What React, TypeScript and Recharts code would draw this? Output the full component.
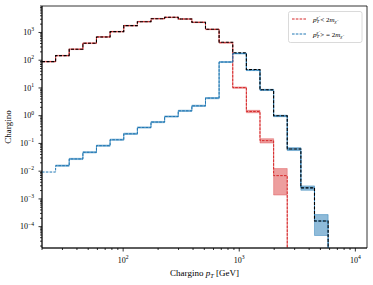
import React from "react";
import { ComposedChart, Line, Area, XAxis, YAxis, ReferenceArea } from "recharts";

// log-spaced bin edges (GeV), 23 bins from 20 to 10^4
const binEdges = [
  20.0, 26.2, 34.3, 45.0, 58.9, 77.2, 101.2, 132.6, 173.7, 227.6, 298.2, 390.7,
  511.9, 670.7, 878.9, 1151.5, 1508.9, 1977.0, 2590.4, 3394.2, 4447.3, 5827.3,
  7635.3, 10000,
];

// bin contents, null = empty bin
const totalCounts = [
  89, 146, 249, 410, 690, 1070, 1760, 2450, 3140, 3520, 3060, 2330, 1300, 445,
  185, 46, 8.6, 0.99, 0.063, 0.0025, 0.00016, null, null,
];
const lowPtCounts = [
  89, 146, 249, 410, 690, 1070, 1760, 2450, 3139, 3519, 3058, 2328, 1296, 430,
  10.3, 1.42, 0.126, 0.0069, null, null, null, null, null,
];
const highPtCounts = [
  0.0093, 0.0158, 0.0276, 0.048, 0.083, 0.136, 0.223, 0.376, 0.589, 0.935, 1.5,
  2.27, 4.3, 86, 175, 44, 8.5, 0.98, 0.063, 0.0025, 0.00016, null, null,
];

// relative uncertainty per bin (shaded band)
const lowPtRelErr = [
  0.03, 0.03, 0.03, 0.03, 0.03, 0.03, 0.03, 0.03, 0.03, 0.03, 0.03, 0.03, 0.03,
  0.04, 0.06, 0.1, 0.18, 0.8, null, null, null, null, null,
];
const highPtRelErr = [
  null, 0.05, 0.05, 0.05, 0.05, 0.05, 0.05, 0.05, 0.05, 0.05, 0.05, 0.05, 0.05,
  0.04, 0.04, 0.04, 0.05, 0.06, 0.12, 0.18, 0.7, null, null,
];

const X_DOMAIN = [20, 12600];
const Y_DOMAIN = [1.7e-5, 9000];
const FLOOR = 1e-7; // below the axis, so steps drop to the bottom
const FONT = "'Liberation Serif', 'DejaVu Serif', serif";
const RED = "#d62728";
const BLUE = "#1f77b4";

const xMajorTicks = [100, 1000, 10000];
const yMajorExps = [-4, -3, -2, -1, 0, 1, 2, 3];

function minorTicks(exps: number[], lo: number, hi: number) {
  const out: number[] = [];
  for (const e of exps) {
    for (let m = 1; m <= 9; m++) {
      const v = m * Math.pow(10, e);
      if (v >= lo && v <= hi) out.push(v);
    }
  }
  return out;
}

const xTicks = minorTicks([1, 2, 3, 4], X_DOMAIN[0], X_DOMAIN[1]);
const yTicks = minorTicks([-5, -4, -3, -2, -1, 0, 1, 2, 3], Y_DOMAIN[0], Y_DOMAIN[1]);

function stepVal(vals: (number | null)[], k: number) {
  const v = k < vals.length ? vals[k] : null;
  if (v != null) return v;
  const prev = k > 0 && k - 1 < vals.length ? vals[k - 1] : null;
  return prev != null ? FLOOR : null;
}

function bandVal(vals: (number | null)[], errs: (number | null)[], k: number) {
  const v = k < vals.length ? vals[k] : null;
  const e = k < errs.length ? errs[k] : null;
  if (v != null && e != null) return [v * (1 - e), v * (1 + e)];
  const pe = k > 0 && k - 1 < errs.length ? errs[k - 1] : null;
  if (v == null && pe != null) return [FLOOR, FLOOR];
  return null;
}

const data = binEdges.map((edge, k) => ({
  x: edge,
  total: stepVal(totalCounts, k),
  low: stepVal(lowPtCounts, k),
  high: stepVal(highPtCounts, k),
  lowBand: bandVal(lowPtCounts, lowPtRelErr, k),
  highBand: bandVal(highPtCounts, highPtRelErr, k),
}));

function isMajor(v: number) {
  const l = Math.log10(v);
  return Math.abs(l - Math.round(l)) < 1e-6;
}

function expText(e: number) {
  return e < 0 ? "\u2212" + -e : String(e);
}

function XTick(props: any) {
  const { x, y, payload } = props;
  const v = payload.value;
  const major = isMajor(v);
  const e = Math.round(Math.log10(v));
  return (
    <g>
      <line x1={x} x2={x} y1={y} y2={y + (major ? 3.5 : 2)} stroke="#000" strokeWidth={0.8} />
      {major && xMajorTicks.includes(v) && (
        <text x={x} y={y + 14.5} textAnchor="middle" fontSize={8} fontFamily={FONT} fill="#000">
          10
          <tspan dy={-3.8} fontSize={5.6}>
            {expText(e)}
          </tspan>
        </text>
      )}
    </g>
  );
}

function YTick(props: any) {
  const { x, y, payload } = props;
  const v = payload.value;
  const major = isMajor(v);
  const e = Math.round(Math.log10(v));
  return (
    <g>
      <line x1={x - (major ? 3.5 : 2)} x2={x} y1={y} y2={y} stroke="#000" strokeWidth={0.8} />
      {major && yMajorExps.includes(e) && (
        <text x={x - 8} y={y + 2.8} textAnchor="end" fontSize={8} fontFamily={FONT} fill="#000">
          10
          <tspan dy={-3.8} fontSize={5.6}>
            {expText(e)}
          </tspan>
        </text>
      )}
    </g>
  );
}

function XLabel(props: any) {
  const vb = props.viewBox || {};
  const cx = vb.x + vb.width / 2;
  return (
    <text x={cx} y={276} textAnchor="middle" fontSize={9} fontFamily={FONT} fill="#000">
      Chargino <tspan fontStyle="italic">p</tspan>
      <tspan dy={1.8} fontSize={6.3} fontStyle="italic">T</tspan>
      <tspan dy={-1.8}> [GeV]</tspan>
    </text>
  );
}

function YLabel() {
  return (
    <text
      x={8}
      y={127}
      transform="rotate(-90 8 127)"
      textAnchor="middle"
      dominantBaseline="central"
      fontSize={9}
      fontFamily={FONT}
      fill="#000"
    >
      Chargino
    </text>
  );
}

function LegendText({ x, y, op }: { x: number; y: number; op: string }) {
  return (
    <text x={x} y={y} fontSize={7} fontFamily={FONT} fill="#000">
      <tspan fontStyle="italic">p</tspan>
      <tspan dy={1.5} fontSize={5} fontStyle="italic">T</tspan>
      <tspan dx={-3} dy={-4.5} fontSize={5} fontStyle="italic">χ̃</tspan>
      <tspan dy={3}>{" " + op + " 2"}</tspan>
      <tspan fontStyle="italic">m</tspan>
      <tspan dy={1.5} fontSize={5} fontStyle="italic">χ̃</tspan>
    </text>
  );
}

function ChartLegend() {
  return (
    <svg
      width={373}
      height={285}
      style={{ position: "absolute", left: 0, top: 0, pointerEvents: "none" }}
    >
      <rect x={288.5} y={11.5} width={73.5} height={31} rx={2} fill="rgba(255,255,255,0.8)" stroke="#d0d0d0" strokeWidth={0.8} />
      <line x1={292} x2={306} y1={19} y2={19} stroke={RED} strokeWidth={1} strokeDasharray="2.6 1.2" />
      <line x1={292} x2={306} y1={34} y2={34} stroke={BLUE} strokeWidth={1} strokeDasharray="2.6 1.2" />
      <LegendText x={313} y={21.5} op="<" />
      <LegendText x={313} y={36.5} op="> =" />
    </svg>
  );
}

export default function App() {
  return (
    <div style={{ position: "absolute", left: 0, top: 0, width: 373, height: 285, background: "#fff" }}>
      <ComposedChart width={373} height={285} data={data} margin={{ top: 6, right: 6, bottom: 0, left: 0 }}>
        <XAxis
          dataKey="x"
          type="number"
          scale="log"
          domain={X_DOMAIN}
          allowDataOverflow
          ticks={xTicks}
          interval={0}
          tick={<XTick />}
          tickLine={false}
          tickSize={0}
          tickMargin={0}
          axisLine={{ stroke: "#000", strokeWidth: 0.8 }}
          height={37}
          label={<XLabel />}
        />
        <YAxis
          type="number"
          scale="log"
          domain={Y_DOMAIN}
          allowDataOverflow
          ticks={yTicks}
          interval={0}
          tick={<YTick />}
          tickLine={false}
          tickSize={0}
          tickMargin={0}
          axisLine={{ stroke: "#000", strokeWidth: 0.8 }}
          width={42}
          label={<YLabel />}
        />
        <Area
          type="stepAfter"
          dataKey="lowBand"
          fill={RED}
          fillOpacity={0.45}
          stroke={RED}
          strokeOpacity={0.4}
          strokeWidth={0.8}
          isAnimationActive={false}
          dot={false}
          activeDot={false}
        />
        <Area
          type="stepAfter"
          dataKey="highBand"
          fill={BLUE}
          fillOpacity={0.5}
          stroke={BLUE}
          strokeOpacity={0.55}
          strokeWidth={0.8}
          isAnimationActive={false}
          dot={false}
          activeDot={false}
        />
        <Line
          type="stepAfter"
          dataKey="low"
          stroke={RED}
          strokeWidth={1}
          strokeDasharray="2.6 1.2"
          dot={false}
          activeDot={false}
          isAnimationActive={false}
        />
        <Line
          type="stepAfter"
          dataKey="high"
          stroke={BLUE}
          strokeWidth={1}
          strokeDasharray="2.6 1.2"
          dot={false}
          activeDot={false}
          isAnimationActive={false}
        />
        <Line
          type="stepAfter"
          dataKey="total"
          stroke="#000"
          strokeWidth={1.1}
          strokeDasharray="3 1.6"
          dot={false}
          activeDot={false}
          isAnimationActive={false}
        />
        <ReferenceArea
          x1={X_DOMAIN[0]}
          x2={X_DOMAIN[1]}
          y1={Y_DOMAIN[0]}
          y2={Y_DOMAIN[1]}
          fill="none"
          stroke="#000"
          strokeWidth={0.8}
          ifOverflow="visible"
        />
      </ComposedChart>
      <ChartLegend />
    </div>
  );
}
